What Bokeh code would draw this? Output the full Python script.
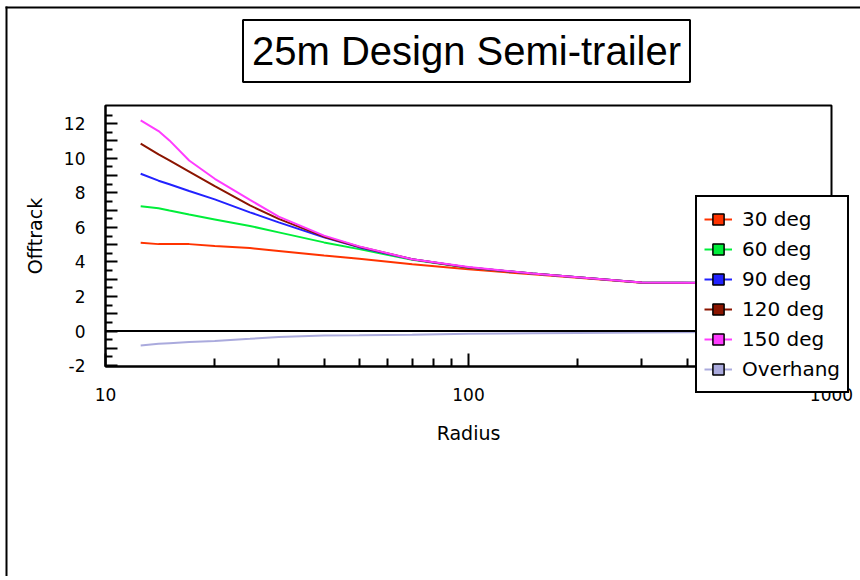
import math
from bokeh.plotting import figure
from bokeh.models import (FixedTicker, Legend, LegendItem, ColumnDataSource, Range1d,
                          BoxAnnotation, Label)
from bokeh.embed import file_html
from bokeh.resources import INLINE

# ---- data ----
radius = [12.5, 14, 15, 17, 20, 25, 30, 40, 50, 70, 100, 150, 200, 300, 500]
deg30 = [5.11, 5.03, 5.03, 5.03, 4.92, 4.80, 4.63, 4.37, 4.18, 3.87, 3.58, 3.28, 3.08, 2.80, 2.78]
deg60 = [7.22, 7.10, 6.97, 6.74, 6.46, 6.08, 5.71, 5.13, 4.74, 4.12, 3.66, 3.33, 3.12, 2.81, 2.78]
deg90 = [9.10, 8.70, 8.49, 8.10, 7.62, 6.87, 6.29, 5.42, 4.84, 4.15, 3.68, 3.33, 3.12, 2.81, 2.78]
deg120 = [10.84, 10.22, 9.87, 9.23, 8.38, 7.27, 6.49, 5.46, 4.88, 4.16, 3.68, 3.33, 3.12, 2.81, 2.78]
deg150 = [12.19, 11.57, 11.03, 9.87, 8.81, 7.59, 6.62, 5.52, 4.90, 4.16, 3.70, 3.33, 3.12, 2.81, 2.78]
overhang = [-0.83, -0.74, -0.70, -0.63, -0.58, -0.45, -0.34, -0.25, -0.24, -0.21, -0.16, -0.13, -0.11, -0.08, -0.05]

series_names = ["30 deg", "60 deg", "90 deg", "120 deg", "150 deg", "Overhang"]
series_values = [deg30, deg60, deg90, deg120, deg150, overhang]
series_colors = ["#ff3300", "#00ee3a", "#2222ff", "#8b1500", "#ff3cff", "#aaaadd"]

title_text = "25m Design Semi-trailer"
x_title = "Radius"
y_title = "Offtrack"
x_lo, x_hi = 10, 1000
y_lo, y_hi = -2.05, 13.05
x_ticks = [10, 100, 1000]
x_tick_labels = ["10", "100", "1000"]
x_minor = [20, 30, 40, 50, 60, 70, 80, 90, 200, 300, 400, 500, 600, 700, 800, 900]
y_ticks = list(range(-2, 13))
y_minor = [t + 0.5 for t in range(-2, 13)]

TICK_FONT = "DejaVu Sans"
LABEL_FONT = "DejaVu Sans"

# ---- layout (pixels) ----
W, H = 860, 576
BOX_L, BOX_R, BOX_T, BOX_B = 105, 831, 105, 366   # visible plot box

# The drawing frame covers the whole canvas; the visible plot box, axes, title
# and legend are placed inside it so nothing is clipped.
px_per_dec = (BOX_R - BOX_L) / (math.log10(x_hi) - math.log10(x_lo))
x_start = 10 ** (math.log10(x_lo) - BOX_L / px_per_dec)
x_end = 10 ** (math.log10(x_hi) + (W - BOX_R) / px_per_dec)
px_per_unit = (BOX_B - BOX_T) / (y_hi - y_lo)
y_end = y_hi + BOX_T / px_per_unit
y_start = y_lo - (H - BOX_B) / px_per_unit

p = figure(width=W, height=H, x_axis_type="log", title=None,
           x_range=Range1d(x_start, x_end), y_range=Range1d(y_start, y_end),
           output_backend="svg", toolbar_location=None,
           min_border=0, min_border_left=0, min_border_right=0,
           min_border_top=0, min_border_bottom=0)
p.grid.visible = False
p.outline_line_color = None
p.background_fill_color = "white"
p.border_fill_color = "white"

# outer chart border: only its left and top edges lie inside the window
p.add_layout(BoxAnnotation(left=5, right=7, top=H - 6, bottom=-20,
                           left_units="screen", right_units="screen",
                           top_units="screen", bottom_units="screen",
                           fill_color="black", fill_alpha=1, line_color=None))
p.add_layout(BoxAnnotation(left=5, right=W + 20, top=H - 6, bottom=H - 8,
                           left_units="screen", right_units="screen",
                           top_units="screen", bottom_units="screen",
                           fill_color="black", fill_alpha=1, line_color=None))

# x axis (drawn at the bottom of the plot box)
xa = p.xaxis[0]
xa.fixed_location = y_lo
xa.bounds = (x_lo, x_hi)
xa.ticker = FixedTicker(ticks=x_ticks, minor_ticks=x_minor)
xa.major_label_overrides = {t: l for t, l in zip(x_ticks, x_tick_labels)}
xa.axis_line_color = "black"
xa.axis_line_width = 2
xa.major_tick_in = 13
xa.major_tick_out = 0
xa.minor_tick_in = 8
xa.minor_tick_out = 0
xa.major_tick_line_color = "black"
xa.minor_tick_line_color = "black"
xa.major_tick_line_width = 2
xa.minor_tick_line_width = 2
xa.major_label_standoff = 21
xa.major_label_text_font = TICK_FONT
xa.major_label_text_font_size = "17px"
xa.major_label_text_color = "black"
xa.axis_label = x_title
xa.axis_label_text_font = LABEL_FONT
xa.axis_label_text_font_size = "19px"
xa.axis_label_text_font_style = "normal"
xa.axis_label_text_color = "black"
xa.axis_label_standoff = 18

# y axis (drawn at the left of the plot box)
ya = p.yaxis[0]
ya.fixed_location = x_lo
ya.bounds = (y_lo, y_hi)
ya.ticker = FixedTicker(ticks=y_ticks, minor_ticks=y_minor)
ya.major_label_overrides = {t: (str(t) if t % 2 == 0 else "") for t in y_ticks}
ya.axis_line_color = "black"
ya.axis_line_width = 2
ya.major_tick_in = 12
ya.major_tick_out = 0
ya.minor_tick_in = 7
ya.minor_tick_out = 0
ya.major_tick_line_color = "black"
ya.minor_tick_line_color = "black"
ya.major_tick_line_width = 2
ya.minor_tick_line_width = 2
ya.major_label_standoff = 20
ya.major_label_text_font = TICK_FONT
ya.major_label_text_font_size = "17px"
ya.major_label_text_color = "black"
ya.axis_label = y_title
ya.axis_label_text_font = LABEL_FONT
ya.axis_label_text_font_size = "19px"
ya.axis_label_text_font_style = "normal"
ya.axis_label_text_color = "black"
ya.axis_label_standoff = 15

# plot box outline
p.add_layout(BoxAnnotation(left=x_lo, right=x_hi, bottom=y_lo, top=y_hi,
                           fill_alpha=0, line_color="black", line_width=2, line_alpha=1))
# zero line, limited to the plot box
p.add_layout(BoxAnnotation(left=x_lo, right=x_hi, bottom=0, top=0,
                           fill_alpha=0, line_color="black", line_width=2, line_alpha=1))

items = []
for name, vals, col in zip(series_names, series_values, series_colors):
    src = ColumnDataSource(dict(x=radius, y=vals))
    lr = p.line("x", "y", source=src, line_color=col, line_width=2)
    # zero-size markers: invisible on the plot, give the legend its square swatch
    sr = p.scatter("x", "y", source=src, marker="square", size=0, fill_color=col,
                   line_color="black", line_width=1.5)
    items.append(LegendItem(label=name, renderers=[lr, sr]))

# title box
p.add_layout(Label(x=466, y=H - 50.5, x_units="screen", y_units="screen", text=title_text,
                   text_font="Liberation Sans", text_font_size="40px", text_color="black",
                   text_align="center", text_baseline="middle",
                   border_line_color="black", border_line_width=2, border_line_alpha=1,
                   background_fill_color="white", padding=9))

legend = Legend(items=items, location=(695, H - 393),
                border_line_color="black", border_line_width=2, border_line_alpha=1,
                background_fill_color="white", background_fill_alpha=1,
                label_text_font=LABEL_FONT, label_text_font_size="20px",
                label_text_color="black",
                glyph_width=28, glyph_height=30, label_height=30,
                spacing=0, padding=7, margin=0, label_standoff=10)
p.add_layout(legend, "center")

open("out.html", "w").write(file_html(p, INLINE))
